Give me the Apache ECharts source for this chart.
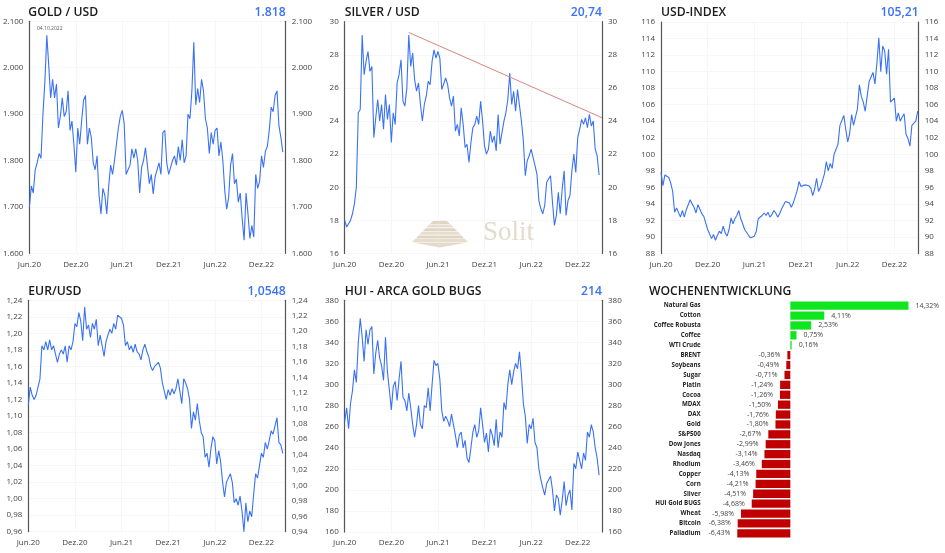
<!DOCTYPE html>
<html>
<head>
<meta charset="utf-8">
<script src="https://cdn.jsdelivr.net/npm/echarts@6/dist/echarts.min.js"></script>
<style>html,body{margin:0;background:#fff}#main{width:945px;height:553px}</style>
</head>
<body>
<div id="main"></div>
<script>
// x labels, one every 24 points (half a year)
var tickLabels = ['Jun.20','Dez.20','Jun.21','Dez.21','Jun.22','Dez.22'];

var goldValues = [
1700,1745,1730,1780,1795,1815,1805,1900,1970,2070,2005,1935,1975,1935,1965,1870,1895,1935,1895,1905,1950,1865,1885,1835,
1775,1870,1835,1885,1930,1940,1835,1870,1850,1795,1780,1810,1725,1685,1740,1725,1685,1745,1790,1770,1800,1835,1870,1895,
1908,1880,1770,1780,1790,1825,1805,1825,1800,1730,1785,1800,1828,1790,1750,1770,1728,1765,1780,1795,1770,1860,1865,1795,
1770,1785,1800,1810,1790,1830,1800,1845,1795,1810,1900,1890,1950,2055,1920,1955,1925,1975,1950,1890,1870,1815,1860,1835,
1865,1870,1810,1840,1800,1735,1695,1720,1790,1815,1750,1760,1710,1730,1675,1628,1730,1685,1632,1660,1635,1770,1740,1755,
1810,1785,1820,1830,1865,1915,1905,1940,1950,1875,1850,1818];

var silverValues = [
18.0,17.6,17.5,18.0,18.4,19.0,20.0,24.5,24.7,29.2,26.8,27.6,28.2,27.0,27.3,23.0,24.2,25.3,24.0,25.0,23.5,25.6,24.1,25.0,
22.7,24.5,23.8,26.3,26.8,27.7,25.2,24.9,26.0,29.2,27.3,28.1,26.5,25.8,26.3,25.0,24.0,25.0,25.5,26.4,26.2,27.6,28.3,27.8,
28.2,27.8,25.9,26.0,26.6,26.2,25.4,24.9,25.5,23.4,23.8,23.1,24.8,23.8,22.4,22.6,21.5,22.7,23.6,23.8,24.3,23.8,25.2,24.0,
22.5,22.0,22.3,23.4,22.7,23.1,22.2,24.4,22.6,23.3,24.0,24.5,25.3,26.9,25.0,25.8,24.6,25.9,26.0,24.0,22.8,20.7,21.6,21.9,
22.3,21.8,21.3,20.8,19.2,18.7,18.4,18.9,20.3,20.2,20.7,19.1,17.7,18.3,19.7,18.4,19.9,21.0,18.3,19.2,19.5,21.0,22.0,20.9,
23.0,23.5,24.1,23.8,24.2,23.6,24.4,23.7,24.0,22.3,21.9,20.74];
var silverTrendX = [33, 132.5];
var silverTrendY = [29.35, 24.2];

var usdValues = [
97.8,96.2,97.5,97.3,97.2,96.5,95.5,93.0,93.5,93.6,92.4,93.2,92.4,93.3,93.2,94.5,94.0,93.6,92.9,93.9,94.1,92.8,92.5,92.3,
90.9,90.8,89.8,90.3,89.6,90.2,90.7,90.4,91.3,90.5,90.1,90.9,92.3,91.6,92.2,92.6,93.2,92.2,91.6,90.9,91.1,90.2,89.9,90.0,
90.1,90.7,92.2,92.4,92.6,92.9,92.6,93.0,92.4,92.7,93.2,92.9,92.4,92.8,93.4,93.3,94.3,94.3,94.1,93.6,94.1,94.3,95.6,96.7,
96.1,96.3,96.3,96.1,96.2,95.9,95.0,95.8,97.1,95.5,96.0,96.2,97.6,99.1,98.0,98.9,98.3,100.0,100.2,101.2,103.5,103.6,104.7,103.0,
101.5,102.5,104.8,103.5,104.5,105.5,108.4,107.0,106.3,105.2,107.0,108.8,108.9,109.9,108.5,111.0,114.1,110.0,113.1,112.5,109.7,112.7,106.3,106.5,
106.8,104.0,105.0,104.0,104.5,104.9,102.4,101.9,101.0,103.5,103.7,104.0,105.21];

var eurValues = [
1.113,1.135,1.125,1.120,1.125,1.135,1.145,1.185,1.180,1.190,1.180,1.192,1.180,1.185,1.175,1.165,1.175,1.180,1.175,1.185,1.165,1.185,1.180,1.190,
1.212,1.208,1.225,1.215,1.191,1.232,1.205,1.210,1.195,1.212,1.205,1.217,1.185,1.198,1.185,1.172,1.190,1.198,1.205,1.200,1.212,1.205,1.222,1.222,
1.218,1.210,1.185,1.190,1.180,1.185,1.177,1.187,1.178,1.175,1.168,1.180,1.187,1.178,1.172,1.160,1.155,1.160,1.160,1.165,1.158,1.140,1.130,1.120,
1.132,1.125,1.133,1.127,1.133,1.145,1.130,1.115,1.145,1.140,1.133,1.120,1.085,1.105,1.095,1.115,1.095,1.080,1.075,1.050,1.055,1.038,1.060,1.075,
1.070,1.042,1.058,1.045,1.020,1.002,1.020,1.018,1.030,1.020,0.995,1.000,0.992,1.003,0.985,0.960,0.995,0.972,0.985,0.978,1.005,1.030,1.025,1.040,
1.055,1.050,1.068,1.060,1.070,1.082,1.078,1.088,1.098,1.068,1.065,1.0548];

var huiValues = [
265,278,258,282,294,314,302,340,363,345,322,352,338,352,355,310,330,342,325,318,304,345,312,295,
276,298,303,285,305,322,288,285,275,292,278,262,250,262,280,262,258,280,278,297,275,300,323,318,
320,305,275,265,270,266,260,272,262,252,240,252,255,240,247,230,226,240,255,262,250,256,278,262,
245,254,236,258,252,242,267,240,255,250,283,276,300,314,300,312,320,315,331,310,282,270,244,262,
258,268,245,240,220,210,202,195,206,207,213,200,180,195,192,176,190,208,185,195,200,181,225,220,
236,228,220,235,228,255,250,262,255,240,230,214];

var weekNames = ['Natural Gas','Cotton','Coffee Robusta','Coffee','WTI Crude','BRENT','Soybeans','Sugar','Platin','Cocoa','MDAX','DAX','Gold','S&P500','Dow Jones','Nasdaq','Rhodium','Copper','Corn','Silver','HUI Gold BUGS','Wheat','Bitcoin','Palladium'];
var weekValues = [14.32,4.11,2.53,0.75,0.16,-0.36,-0.49,-0.71,-1.24,-1.26,-1.50,-1.76,-1.80,-2.67,-2.99,-3.14,-3.46,-4.13,-4.21,-4.51,-4.68,-5.98,-6.38,-6.43];

var FONT = 'Open Sans';
var BLUE = '#3a72f5';

function comma(v, d){ return v.toFixed(d).replace('.', ','); }
function dotted(v){ return String(v).replace(/(\d)(\d{3})$/, '$1.$2'); }

var panels = [
  {name:'GOLD / USD', last:'1.818', data:goldValues, l:28.3, r:285.7, t:21.3, b:253.3, min:1600, max:2100, step:100, fmt:dotted},
  {name:'SILVER / USD', last:'20,74', data:silverValues, l:344.7, r:602, t:21.7, b:253.5, min:16, max:30, step:2, fmt:String},
  {name:'USD-INDEX', last:'105,21', data:usdValues, l:661, r:918.7, t:22, b:253.5, min:88, max:116, step:2, fmt:String},
  {name:'EUR/USD', last:'1,0548', data:eurValues, l:28.3, r:285.7, t:300.3, b:531.7, min:0.96, max:1.24, step:0.02, rmin:0.94, fmt:function(v){return comma(v,2);}},
  {name:'HUI - ARCA GOLD BUGS', last:'214', data:huiValues, l:344.7, r:602, t:300.3, b:532, min:160, max:380, step:20, fmt:String}
];

var option = {animation:false, backgroundColor:'#fff', title:[], grid:[], xAxis:[], yAxis:[], series:[], graphic:[]};

panels.forEach(function(p, i){
  var titleTop = i < 3 ? 6.5 : 285.5;
  option.title.push({text:p.name, left:p.l, top:titleTop, padding:0, textStyle:{fontFamily:FONT, fontSize:12.2, fontWeight:600, color:'#1a1a1a'}});
  option.title.push({text:p.last, right:945 - p.r, top:titleTop, padding:0, textStyle:{fontFamily:FONT, fontSize:12.2, fontWeight:600, color:BLUE}});
  option.grid.push({left:p.l, top:p.t, width:p.r - p.l, height:p.b - p.t});
  option.xAxis.push({
    type:'value', gridIndex:i, min:0, max:132.5, interval:24,
    axisLine:{show:false}, axisTick:{show:false},
    splitLine:{show:true, lineStyle:{color:'#e8e8e8', type:'dotted', width:0.7}},
    axisLabel:{fontFamily:FONT, fontSize:8, color:'#444', margin:7, showMaxLabel:false,
      formatter:function(v){ return v % 24 === 0 ? tickLabels[v / 24] : ''; }}
  });
  var base = i * 2;
  var common = {
    type:'value', gridIndex:i, interval:p.step, max:p.max,
    axisTick:{show:false},
    axisLine:{show:true, lineStyle:{color:'#555', width:1.2}},
    axisLabel:{fontFamily:FONT, fontSize:8, color:'#444', margin:6, formatter:p.fmt}
  };
  option.yAxis.push(Object.assign({}, common, {position:'left', min:p.min,
    splitLine:{show:true, lineStyle:{color:'#e8e8e8', type:'dotted', width:0.7}}}));
  option.yAxis.push(Object.assign({}, common, {position:'right', min:p.rmin || p.min, splitLine:{show:false}}));
  option.series.push({
    type:'line', xAxisIndex:i, yAxisIndex:base, showSymbol:false, silent:true,
    lineStyle:{color:BLUE, width:1.1}, z:3,
    data:p.data.map(function(v, k){ return [k, v]; })
  });
});

// falling trend line in the silver chart
option.series.push({
  type:'line', xAxisIndex:1, yAxisIndex:2, showSymbol:false, silent:true, z:4,
  lineStyle:{color:'#d8857c', width:1},
  data:silverTrendX.map(function(x, k){ return [x, silverTrendY[k]]; })
});

// weekly performance bars
option.title.push({text:'WOCHENENTWICKLUNG', left:649, top:285.5, padding:0, textStyle:{fontFamily:FONT, fontSize:12.2, fontWeight:600, color:'#1a1a1a'}});
option.grid.push({left:736.7, top:300.7, width:177.4, height:237.6});
option.xAxis.push({type:'value', gridIndex:5, min:-6.5, max:15, show:false});
option.yAxis.push({
  type:'category', gridIndex:5, data:weekNames, inverse:true,
  axisLine:{show:false}, axisTick:{show:false},
  axisLabel:{fontFamily:FONT, fontSize:6.2, fontWeight:700, color:'#222', margin:36, interval:0}
});
option.series.push({
  type:'bar', xAxisIndex:5, yAxisIndex:10, barCategoryGap:'16%', silent:true,
  data:weekValues.map(function(v){
    return {value:v, itemStyle:{color:v > 0 ? '#0fe61f' : '#c00000'}};
  }),
  label:{show:true, position:'outside', distance:7, fontFamily:FONT, fontSize:7, color:'#444',
    formatter:function(o){ return comma(o.value, 2) + '%'; }}
});

// date note and Solit watermark
option.graphic.push({type:'text', left:37, top:26.5, style:{text:'04.10.2022', fontFamily:FONT, fontSize:5, fill:'#555'}});
option.graphic.push({type:'text', left:483, top:219, z:0, style:{text:'Solit', fontFamily:'Liberation Serif', fontSize:27, fill:'#e3dbcb'}});
for (var s = 0; s < 6; s++) {
  var half = 9 + s * 3.6;
  option.graphic.push({
    type:'polygon', z:0,
    shape:{points:[[440 - half + 2, 221 + s * 3.6],[440 + half - 2, 221 + s * 3.6],[440 + half + 1, 224 + s * 3.6],[440 - half - 1, 224 + s * 3.6]]},
    style:{fill:s % 2 ? '#e6ddcd' : '#dfd5c2'}
  });
}
option.graphic.push({
  type:'polygon', z:0,
  shape:{points:[[413, 242.5],[467, 242.5],[440, 247.5]]},
  style:{fill:'#e3dac9'}
});

var myChart = echarts.init(document.getElementById('main'), null, {renderer:'canvas'});
myChart.setOption(option);
</script>
</body>
</html>
